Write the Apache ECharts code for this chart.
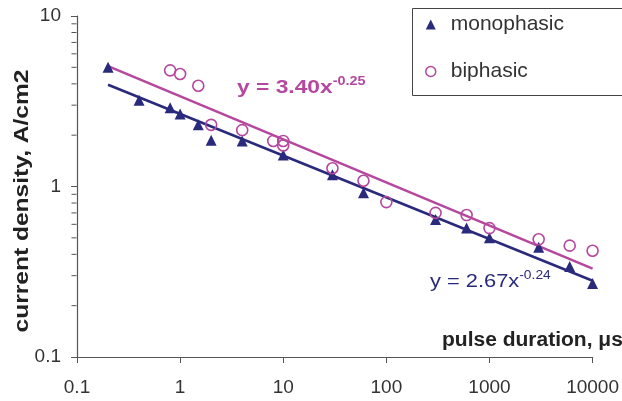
<!DOCTYPE html>
<html><head><meta charset="utf-8">
<script src="https://cdn.jsdelivr.net/npm/echarts@6/dist/echarts.min.js"></script>
<style>html,body{margin:0;padding:0;background:#fff}#c{width:622px;height:401px}</style>
</head><body><div id="c"></div>
<script>
const xTicks = [0.1, 1, 10, 100, 1000, 10000];
const yTicks = [0.1, 1, 10];
const yMinorTicks = [0.2, 0.3, 0.4, 0.5, 0.6, 0.7, 0.8, 0.9, 2, 3, 4, 5, 6, 7, 8, 9];
const monoX = [0.2, 0.4, 0.8, 1, 1.5, 2, 4, 10, 30, 60, 300, 600, 1000, 3000, 6000, 10000];
const monoY = [5.0, 3.2, 2.9, 2.66, 2.3, 1.87, 1.85, 1.53, 1.17, 0.92, 0.64, 0.57, 0.50, 0.44, 0.34, 0.27];
const biX = [0.8, 1, 1.5, 2, 4, 8, 10, 10, 30, 60, 100, 300, 600, 1000, 3000, 6000, 10000];
const biY = [4.8, 4.57, 3.9, 2.3, 2.14, 1.85, 1.85, 1.74, 1.28, 1.08, 0.81, 0.70, 0.68, 0.57, 0.49, 0.45, 0.42];
const monoTrendX = [0.2, 10000];
const monoTrendY = [3.95, 0.28];
const biTrendX = [0.2, 10000];
const biTrendY = [5.08, 0.33];
const NAVY = '#2a2a7c', MAG = '#b5479f';
const zip = (a, b) => a.map((v, i) => [v, b[i]]);
const fmt = list => v => { const t = list.find(k => Math.abs(Math.log10(k) - Math.log10(v)) < 1e-6); return t === undefined ? '' : String(t); };
const chart = echarts.init(document.getElementById('c'));
chart.setOption({
  animation: false,
  grid: {left: 77, right: 28, top: 16, bottom: 44},
  xAxis: {
    type: 'log', logBase: 10, min: 0.1, max: 10000,
    axisLine: {lineStyle: {color: '#555', width: 1.2}},
    axisTick: {show: true, inside: false, length: 6, lineStyle: {color: '#555'}},
    minorTick: {show: false},
    splitLine: {show: false},
    axisLabel: {color: '#333', fontSize: 19, fontFamily: 'Liberation Sans', margin: 21, formatter: fmt(xTicks)}
  },
  yAxis: {
    type: 'log', logBase: 10, min: 0.1, max: 10,
    axisLine: {show: true, lineStyle: {color: '#555', width: 1.2}},
    axisTick: {show: true, inside: false, length: 6, lineStyle: {color: '#555'}},
    minorTick: {show: false},
    splitLine: {show: false},
    axisLabel: {color: '#333', fontSize: 19, fontFamily: 'Liberation Sans', margin: 16, formatter: fmt(yTicks)}
  },
  legend: {
    orient: 'vertical', left: 420, top: 9, itemGap: 26, itemWidth: 10, itemHeight: 10,
    textStyle: {color: '#333', fontSize: 21, fontFamily: 'Liberation Sans', padding: [0, 0, 0, 10]},
    data: [{name: 'monophasic', icon: 'triangle', itemStyle: {color: NAVY, opacity: 1}},
           {name: 'biphasic', icon: 'circle', itemStyle: {color: '#fff', borderColor: MAG, borderWidth: 1.5, opacity: 1}}]
  },
  graphic: [
    {type: 'rect', left: 410, top: 6, shape: {width: 210, height: 87}, style: {fill: 'none', stroke: '#444', lineWidth: 1}, z: 100},
    {type: 'text', rotation: Math.PI / 2, x: 22, y: 201, scaleX: 1.17,
      style: {text: 'current density, A/cm2', fill: '#222', font: 'bold 21px "Liberation Sans"', textAlign: 'center', textVerticalAlign: 'middle'}},
    {type: 'text', x: 442, y: 340, scaleX: 1.05, style: {text: 'pulse duration, μs', fill: '#222', font: 'bold 20px "Liberation Sans"', textAlign: 'left', textVerticalAlign: 'middle'}},
    {type: 'text', x: 237, y: 88, scaleX: 1.2, style: {text: '{a|y = 3.40x}{s|-0.25}', textVerticalAlign: 'middle',
      rich: {a: {fill: MAG, font: 'bold 19px "Liberation Sans"'}, s: {fill: MAG, font: 'bold 12px "Liberation Sans"', verticalAlign: 'top', padding: [0, 0, 12, 0]}}}},
    {type: 'text', x: 430, y: 282, scaleX: 1.15, style: {text: '{a|y = 2.67x}{s|-0.24}', textVerticalAlign: 'middle',
      rich: {a: {fill: NAVY, font: '19px "Liberation Sans"'}, s: {fill: NAVY, font: '12px "Liberation Sans"', verticalAlign: 'top', padding: [0, 0, 12, 0]}}}}
  ],
  series: [
    {name: 'yMinor', type: 'scatter', clip: false, silent: true, data: yMinorTicks.map(v => [0.1, v]),
      symbol: 'rect', symbolSize: [5, 1], symbolOffset: [-3, 0], itemStyle: {color: '#555', opacity: 1}, z: 1},
    {name: 'biphasic trend', type: 'line', data: zip(biTrendX, biTrendY), symbol: 'none', lineStyle: {color: MAG, width: 2.5}, z: 2},
    {name: 'monophasic trend', type: 'line', data: zip(monoTrendX, monoTrendY), symbol: 'none', lineStyle: {color: NAVY, width: 2.5}, z: 2},
    {name: 'monophasic', type: 'scatter', data: zip(monoX, monoY), symbol: 'triangle', symbolSize: 11, itemStyle: {color: NAVY, opacity: 1}, z: 3},
    {name: 'biphasic', type: 'scatter', data: zip(biX, biY), symbol: 'circle', symbolSize: 11, itemStyle: {color: 'rgba(255,255,255,0)', borderColor: MAG, borderWidth: 1.6, opacity: 1}, z: 4}
  ]
});
</script></body></html>
